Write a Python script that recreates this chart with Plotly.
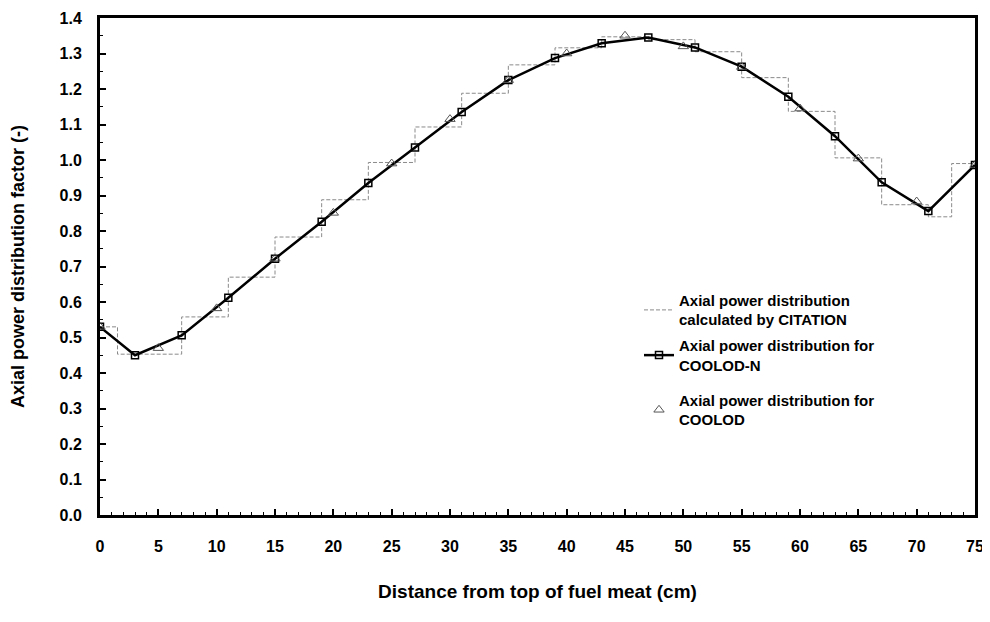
import plotly.graph_objects as go

# CITATION staircase: step edges (cm) and step values
citation_edges = [0, 1.5, 7, 11, 15, 19, 23, 27, 31, 35, 39, 43, 47, 51, 55, 59, 63, 67, 71, 73, 75]
citation_values = [0.530, 0.453, 0.558, 0.670, 0.783, 0.888, 0.993, 1.093, 1.188, 1.268, 1.316,
                   1.347, 1.339, 1.305, 1.232, 1.137, 1.006, 0.874, 0.840, 0.990, 0.990]

# COOLOD-N nodal values
cn_x = [0, 3, 7, 11, 15, 19, 23, 27, 31, 35, 39, 43, 47, 51, 55, 59, 63, 67, 71, 75]
cn_y = [0.530, 0.450, 0.506, 0.612, 0.722, 0.826, 0.935, 1.035, 1.135, 1.225, 1.287, 1.329,
        1.345, 1.317, 1.263, 1.178, 1.067, 0.937, 0.856, 0.986]

# COOLOD values
c_x = [0, 5, 10, 15, 20, 25, 30, 35, 40, 45, 50, 55, 60, 65, 70, 75]
c_y = [0.530, 0.470, 0.582, 0.722, 0.851, 0.990, 1.115, 1.225, 1.300, 1.350, 1.320, 1.262,
       1.145, 1.004, 0.883, 0.986]

x_ticks = list(range(0, 80, 5))
y_ticks = [round(0.1 * i, 1) for i in range(15)]

FONT = "Liberation Sans, Arial, sans-serif"
LEG_FONT = dict(family=FONT, size=15, color="black", weight="bold")

fig = go.Figure()
fig.add_trace(go.Scatter(
    x=citation_edges, y=citation_values, mode="lines", line_shape="hv",
    line=dict(color="#8a8a8a", width=1, dash="4px,2px"),
    name="Axial power distribution<br>calculated by CITATION", legend="legend"))
fig.add_trace(go.Scatter(
    x=cn_x, y=cn_y, mode="lines+markers",
    line=dict(color="black", width=2.5),
    marker=dict(symbol="square-open", size=7, color="black", line=dict(width=1.5)),
    name="Axial power distribution for<br>COOLOD-N", legend="legend2"))
fig.add_trace(go.Scatter(
    x=c_x, y=c_y, mode="markers",
    marker=dict(symbol="triangle-up-open", size=9, color="#555555", line=dict(width=1)),
    name="Axial power distribution for<br>COOLOD", legend="legend3"))

axis_common = dict(
    showline=True, linecolor="black", linewidth=3, mirror=True,
    ticks="inside", tickcolor="black", ticklen=6, tickwidth=1.5,
    showgrid=False, zeroline=False, automargin=False,
    tickfont=dict(family=FONT, size=16, color="black", weight="bold"),
)

fig.update_xaxes(
    range=[0, 75], tickvals=x_ticks, ticklabelstandoff=15,
    minor=dict(dtick=1, ticks="inside", ticklen=3, tickcolor="black", tickwidth=1),
    title=dict(text="Distance from top of fuel meat (cm)",
               font=dict(family=FONT, size=19, color="black", weight="bold"), standoff=31),
    **axis_common)
fig.update_yaxes(
    range=[0, 1.4], tickvals=y_ticks, tickformat=".1f", ticklabelstandoff=12,
    minor=dict(dtick=0.05, ticks="inside", ticklen=3, tickcolor="black", tickwidth=1),
    title=dict(text="Axial power distribution factor (-)",
               font=dict(family=FONT, size=18, color="black", weight="bold"), standoff=33),
    **axis_common)

leg_common = dict(xanchor="left", yanchor="top", font=LEG_FONT,
                  bgcolor="rgba(0,0,0,0)", itemwidth=30)
# the page body adds an 8px offset, so the figure is sized to fit the 990x622 window
fig.update_layout(
    width=982, height=614,
    margin=dict(l=92, r=15, t=10, b=107),
    plot_bgcolor="white", paper_bgcolor="white",
    legend=dict(x=0.616, y=0.465, **leg_common),
    legend2=dict(x=0.616, y=0.374, **leg_common),
    legend3=dict(x=0.616, y=0.264, **leg_common),
    showlegend=True,
)

fig.write_html("out.html")
